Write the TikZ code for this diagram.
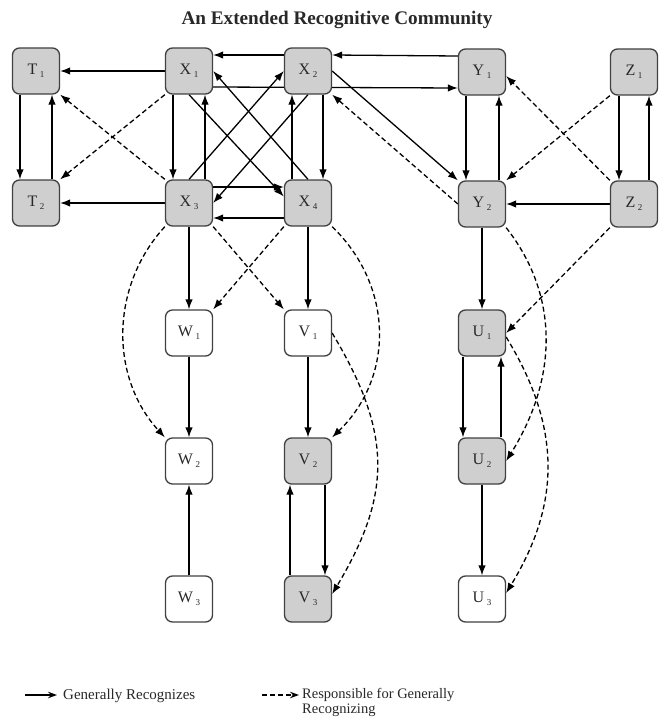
\documentclass[tikz,border=0pt]{standalone}
\usepackage{fontspec}
\setmainfont{Liberation Serif}
\usetikzlibrary{arrows.meta}
\pgfdeclarelayer{bg}
\pgfsetlayers{bg,main}
\definecolor{boxgray}{RGB}{207,207,207}
\definecolor{boxline}{RGB}{65,65,65}
\definecolor{labtext}{RGB}{40,40,40}
% agent label: letter with a lowered index
\newcommand{\agent}[2]{#1\,\raisebox{-0.45ex}{\fontsize{9}{9}\selectfont #2}}

\begin{document}
\begin{tikzpicture}[x=1pt,y=-1pt,
  agentbox/.style={draw=boxline, line width=1.3pt, rounded corners=7pt,
    minimum width=47pt, minimum height=46pt, inner sep=0pt,
    font=\fontsize{16}{17}\selectfont, text=labtext},
  shaded/.style={agentbox, fill=boxgray},
  plain/.style={agentbox, fill=white},
  rec/.style={line width=1.3pt, -{Latex[length=10pt,width=7.5pt]}},
  resp/.style={rec, dash pattern=on 5pt off 3pt},
  legtext/.style={font=\fontsize{15}{15}\selectfont, text=labtext, inner sep=0pt},
  legsmall/.style={legtext, font=\fontsize{14.5}{15}\selectfont},
]
\useasboundingbox (0,0) rectangle (659,717);

% title
\node[font=\fontsize{19.2}{22}\selectfont\bfseries, text=labtext, anchor=base] (title) at (337,25) {An Extended Recognitive Community};

% agents
\node[shaded] (T1) at (36,71)  {\agent{T}{1}};
\node[shaded] (X1) at (189,71) {\agent{X}{1}};
\node[shaded] (X2) at (308,71) {\agent{X}{2}};
\node[shaded] (Y1) at (482,72) {\agent{Y}{1}};
\node[shaded] (Z1) at (634,72) {\agent{Z}{1}};

\node[shaded] (T2) at (36,203)  {\agent{T}{2}};
\node[shaded] (X3) at (189,203) {\agent{X}{3}};
\node[shaded] (X4) at (308,203) {\agent{X}{4}};
\node[shaded] (Y2) at (482,204) {\agent{Y}{2}};
\node[shaded] (Z2) at (634,204) {\agent{Z}{2}};

\node[plain]  (W1) at (189,333) {\agent{W}{1}};
\node[plain]  (V1) at (308,333) {\agent{V}{1}};
\node[shaded] (U1) at (482,333) {\agent{U}{1}};

\node[plain]  (W2) at (189,461) {\agent{W}{2}};
\node[shaded] (V2) at (308,461) {\agent{V}{2}};
\node[shaded] (U2) at (482,461) {\agent{U}{2}};

\node[plain]  (W3) at (189,599) {\agent{W}{3}};
\node[shaded] (V3) at (308,599) {\agent{V}{3}};
\node[plain]  (U3) at (482,599) {\agent{U}{3}};

\begin{pgfonlayer}{bg}
% T pair
\draw[rec] (X1.west) -- (T1.east);
\draw[rec] (X3.west) -- (T2.east);
\draw[rec] ([xshift=-16pt]T1.south) -- ([xshift=-16pt]T2.north);
\draw[rec] ([xshift=16pt]T2.north) -- ([xshift=16pt]T1.south);
\draw[resp] (X1.south west) -- (T2.north east);
\draw[resp] (X3.north west) -- (T1.south east);

% X cluster
\draw[rec] ([yshift=16pt]X2.west) -- ([yshift=16pt]X1.east);
\draw[rec] ([yshift=16pt]Y1.west) -- ([yshift=16pt]X2.east);
\draw[rec] ([yshift=-16pt]X1.east) -- ([yshift=-16pt]Y1.west);
\draw[rec] ([xshift=-16pt]X1.south) -- ([xshift=-16pt]X3.north);
\draw[rec] ([xshift=16pt]X3.north) -- ([xshift=16pt]X1.south);
\draw[rec] ([xshift=15pt]X2.south) -- ([xshift=15pt]X4.north);
\draw[rec] ([xshift=-16pt]X4.north) -- ([xshift=-16pt]X2.south);
\draw[rec] ([yshift=16pt]X3.east) -- ([yshift=16pt]X4.west);
\draw[rec] ([yshift=-15pt]X4.west) -- ([yshift=-15pt]X3.east);
\draw[rec] (X1.south) -- (X4.165);
\draw[rec] (X4.north) -- (X1.east);
\draw[rec] (X3.north) -- (X2.west);
\draw[rec] (X2.south) -- (X3.east);

% Y and Z
\draw[rec] (X2.east) -- (Y2.north west);
\draw[resp] (Y2.west) -- (X2.south east);
\draw[rec] ([xshift=-16pt]Y1.south) -- ([xshift=-16pt]Y2.north);
\draw[rec] ([xshift=17pt]Y2.north) -- ([xshift=17pt]Y1.south);
\draw[rec] ([xshift=-15pt]Z1.south) -- ([xshift=-15pt]Z2.north);
\draw[rec] ([xshift=15pt]Z2.north) -- ([xshift=15pt]Z1.south);
\draw[rec] (Z2.west) -- (Y2.east);
\draw[resp] (Z1.south west) -- (Y2.north east);
\draw[resp] (Z2.north west) -- ([yshift=-4pt]Y1.east);

% U column
\draw[rec] (Y2.south) -- (U1.north);
\draw[resp] (Z2.south west) -- (U1.east);
\draw[resp] (Y2.south east) .. controls +(55,70) and +(50,-80) .. (U2.east);
\draw[rec] ([xshift=-19pt]U1.south) -- ([xshift=-19pt]U2.north);
\draw[rec] ([xshift=19pt]U2.north) -- ([xshift=19pt]U1.south);
\draw[rec] (U2.south) -- (U3.north);
\draw[resp] ([yshift=-4pt]U1.east) .. controls +(55,90) and +(55,-90) .. ([yshift=6pt]U3.east);

% W and V columns
\draw[rec] (X3.south) -- (W1.north);
\draw[rec] (X4.south) -- (V1.north);
\draw[resp] (X4.south west) -- (W1.north east);
\draw[resp] (X3.south east) -- (V1.north west);
\draw[resp] (X3.south west) .. controls +(-55,60) and +(-55,-60) .. (W2.north west);
\draw[resp] (X4.south east) .. controls +(62,60) and +(62,-60) .. (V2.north east);
\draw[rec] (W1.south) -- (W2.north);
\draw[rec] (W3.north) -- (W2.south);
\draw[rec] (V1.south) -- (V2.north);
\draw[rec] ([xshift=17pt]V2.south) -- ([xshift=17pt]V3.north);
\draw[rec] ([xshift=-18pt]V3.north) -- ([xshift=-18pt]V2.south);
\draw[resp] (V1.east) .. controls +(60,100) and +(60,-100) .. ([yshift=5pt]V3.east);
\end{pgfonlayer}

% legend
\coordinate (la1) at (25,695);
\coordinate (la2) at (57,695);
\coordinate (lb1) at (262,695);
\coordinate (lb2) at (299,695);
\draw[rec, -{Stealth[length=9pt,width=6.5pt]}] (la1) -- (la2);
\draw[resp, -{Stealth[length=9pt,width=6.5pt]}] (lb1) -- (lb2);
\node[legtext, anchor=base west] (legA) at (63,699) {Generally Recognizes};
\node[legsmall, anchor=base west] (legB) at (302,698) {Responsible for Generally};
\node[legsmall, anchor=base west] (legC) at (302,713) {Recognizing};
\end{tikzpicture}
\end{document}
